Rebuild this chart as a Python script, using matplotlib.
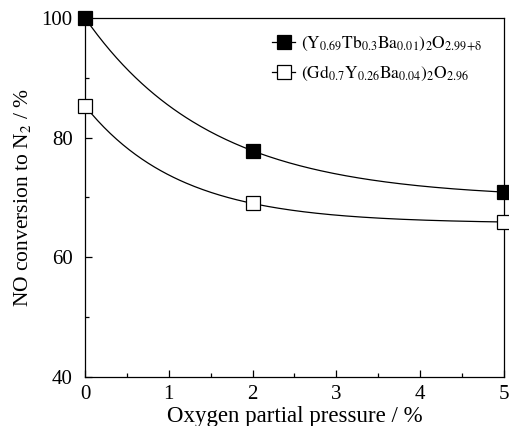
import matplotlib
matplotlib.use("Agg")
import matplotlib.pyplot as plt
import numpy as np

plt.rcParams.update(
    {
        "font.family": ["Liberation Serif", "DejaVu Serif"],
        "mathtext.fontset": "stix",
        "font.size": 14,
    }
)

oxygen = [0, 2, 5]
ytb_ba = [100.0, 77.8, 70.9]
gdy_ba = [85.3, 69.0, 65.9]
labels = [
    r"$\mathrm{(Y_{0.69}Tb_{0.3}Ba_{0.01})_2O_{2.99{+}\delta}}$",
    r"$\mathrm{(Gd_{0.7}Y_{0.26}Ba_{0.04})_2O_{2.96}}$",
]


def _exp_fit(x, y):
    # y = a + b*exp(-k x) through the three measured points (x0=0)
    x = np.asarray(x, float)
    y = np.asarray(y, float)
    target = (y[1] - y[2]) / (y[0] - y[1])

    def ratio(u):
        return (u ** x[1] - u ** x[2]) / (1 - u ** x[1])

    lo, hi = 1e-6, 1 - 1e-6
    for _ in range(200):
        mid = 0.5 * (lo + hi)
        if ratio(mid) < target:
            lo = mid
        else:
            hi = mid
    u = 0.5 * (lo + hi)
    b = (y[0] - y[1]) / (1 - u ** x[1])
    a = y[0] - b
    xs = np.linspace(x[0], x[-1], 200)
    return xs, a + b * u ** xs


fig = plt.figure(figsize=(5.09, 4.26), dpi=100)
ax = fig.add_axes([0.167, 0.115, 0.823, 0.843])

for ys, face, label in [(ytb_ba, "black", labels[0]), (gdy_ba, "white", labels[1])]:
    xs, fit = _exp_fit(oxygen, ys)
    ax.plot(xs, fit, color="black", linewidth=0.9)
    ax.plot(oxygen, ys, linestyle="none", marker="s", markersize=9.5,
            markerfacecolor=face, markeredgecolor="black", markeredgewidth=0.9,
            clip_on=False, zorder=5)
    ax.plot([], [], color="black", linewidth=0.9, marker="s", markersize=9.5,
            markerfacecolor=face, markeredgecolor="black", markeredgewidth=0.9,
            label=label)

ax.set_xlim(0, 5)
ax.set_ylim(40, 100)
ax.set_xticks(range(0, 6))
ax.set_xticks(np.arange(0, 5.01, 0.5), minor=True)
ax.set_yticks([40, 60, 80, 100])
ax.set_yticks([50, 70, 90], minor=True)
ax.tick_params(direction="in", length=5, width=0.9, labelsize=15)
ax.tick_params(axis="x", pad=6)
ax.tick_params(axis="y", pad=9)
ax.tick_params(which="minor", direction="in", length=3, width=0.9)
for s in ax.spines.values():
    s.set_linewidth(0.9)

ax.set_xlabel("Oxygen partial pressure / %", labelpad=1, fontsize=16.5)
ax.set_ylabel(r"NO conversion to N$_2$ / %", labelpad=6, fontsize=15.5)

ax.legend(loc="upper right", frameon=False, fontsize=12.5, handlelength=1.3,
          handletextpad=0.35, borderaxespad=0.5, labelspacing=0.65,
          bbox_to_anchor=(0.985, 1.0))

fig.savefig("out.png", dpi=100)
